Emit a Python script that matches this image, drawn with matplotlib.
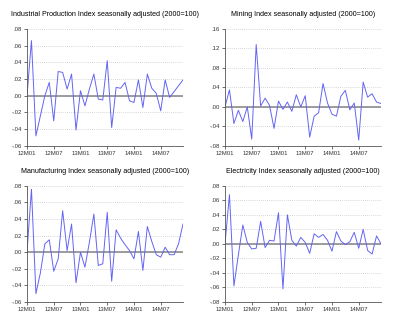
import numpy as np
import matplotlib.pyplot as plt

plt.rcParams['font.family'] = ['Liberation Sans', 'DejaVu Sans']

# monthly growth rates, 2012M01 - 2014M12
industrial = [0.000, 0.066, -0.048, -0.024, 0.000, 0.016, -0.030, 0.029, 0.028, 0.008,
              0.026, -0.041, 0.006, -0.012, 0.008, 0.026, -0.004, -0.005, 0.042, -0.038,
              0.010, 0.009, 0.016, -0.006, -0.008, 0.019, -0.014, 0.026, 0.009, 0.003,
              -0.018, 0.019, -0.002, 0.005, 0.012, 0.019]
mining = [0.000, 0.035, -0.034, -0.007, -0.030, 0.000, -0.066, 0.128, 0.002, 0.018,
          0.003, -0.044, 0.012, -0.005, 0.010, -0.009, 0.025, 0.000, 0.023, -0.062,
          -0.019, -0.012, 0.048, 0.008, -0.015, -0.019, 0.022, 0.034, -0.006, 0.008,
          -0.068, 0.051, 0.020, 0.027, 0.010, 0.007]
manufacturing = [0.000, 0.076, -0.050, -0.025, 0.010, 0.015, -0.023, -0.008, 0.050, 0.002,
                 0.034, -0.037, 0.000, -0.018, 0.012, 0.046, -0.016, -0.014, 0.048, -0.035,
                 0.027, 0.017, 0.009, 0.002, -0.008, 0.025, -0.022, 0.031, 0.013, -0.003,
                 -0.006, 0.006, -0.003, -0.003, 0.010, 0.034]
electricity = [0.000, 0.068, -0.058, -0.015, 0.026, 0.002, -0.007, -0.006, 0.031, -0.005,
               0.005, 0.004, 0.043, -0.062, 0.040, 0.005, -0.003, 0.009, 0.002, -0.013,
               0.014, 0.009, 0.013, 0.005, -0.010, 0.017, 0.004, -0.001, 0.003, 0.016,
               -0.006, 0.020, -0.009, -0.014, 0.011, 0.000]

tick_labels = ["12M01", "12M07", "13M01", "13M07", "14M01", "14M07"]

panels = [
    ("Industrial Production Index seasonally adjusted (2000=100)", industrial,
     np.arange(-0.06, 0.081, 0.02), [0.0675, 0.551, 0.39, 0.36]),
    ("Mining Index seasonally adjusted (2000=100)", mining,
     np.arange(-0.08, 0.161, 0.04), [0.5625, 0.551, 0.39, 0.36]),
    ("Manufacturing Index seasonally adjusted (2000=100)", manufacturing,
     np.arange(-0.06, 0.081, 0.02), [0.0675, 0.071, 0.39, 0.357]),
    ("Electricity Index seasonally adjusted (2000=100)", electricity,
     np.arange(-0.08, 0.081, 0.02), [0.5625, 0.071, 0.39, 0.357]),
]


def fmt(v):
    s = f"{v:.2f}"
    return s.replace("0.", ".")


fig = plt.figure(figsize=(4, 3.25), dpi=100)

for title, vals, yticks, pos in panels:
    ax = fig.add_axes(pos)
    x = np.arange(len(vals))
    for t in yticks:
        ax.axhline(t, color="#c8c8c8", lw=0.6, ls=(0, (1, 1.5)), zorder=0)
    ax.axhline(0, color="#8c8c8c", lw=1.2, zorder=1)
    ax.plot(x, vals, color="#6464f4", lw=0.7, zorder=2)
    ax.set_xlim(0, len(vals) - 1)
    ax.set_ylim(yticks[0], yticks[-1])
    ax.set_yticks(yticks)
    ax.set_yticklabels([fmt(t) for t in yticks])
    ax.set_xticks(np.arange(0, 36, 6))
    ax.set_xticklabels(tick_labels)
    ax.tick_params(labelsize=4.3, length=2, width=0.5, pad=1.5, colors="#333333")
    for side in ["top", "right"]:
        ax.spines[side].set_visible(False)
    for side in ["left", "bottom"]:
        ax.spines[side].set_linewidth(0.6)
        ax.spines[side].set_color("#555555")
    ax.set_title(title, fontsize=5.1, pad=9)

fig.savefig("out.png", dpi=100)
